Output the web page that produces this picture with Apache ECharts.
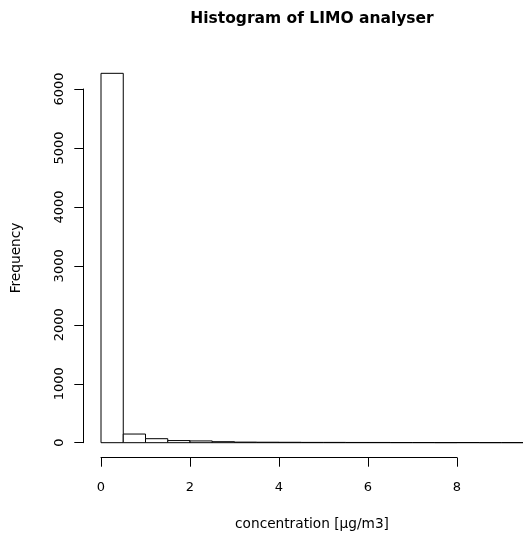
<!DOCTYPE html>
<html>
<head>
<meta charset="utf-8">
<script src="https://cdn.jsdelivr.net/npm/echarts@6/dist/echarts.min.js"></script>
<style>
html,body{margin:0;padding:0;background:#fff;}
#chart{width:523px;height:538px;}
</style>
</head>
<body>
<div id="chart"></div>
<script>
// Histogram bins (concentration, µg/m3) and frequencies
var binLeft  = [0, 0.5, 1, 1.5, 2, 2.5, 3, 3.5, 4, 4.5, 5, 5.5, 6, 6.5, 7, 7.5, 8, 8.5, 9];
var binRight = [0.5, 1, 1.5, 2, 2.5, 3, 3.5, 4, 4.5, 5, 5.5, 6, 6.5, 7, 7.5, 8, 8.5, 9, 9.5];
var counts   = [6266, 147, 68, 36, 30, 17, 10, 8, 7, 5, 5, 4, 4, 3, 3, 2, 3, 2, 2];
var xTicks = [0, 2, 4, 6, 8];
var yTicks = [0, 1000, 2000, 3000, 4000, 5000, 6000];

var mainTitle = 'Histogram of LIMO analyser';
var xTitle = 'concentration [µg/m3]';
var yTitle = 'Frequency';

var data = binLeft.map(function (l, i) { return [l, binRight[i], counts[i]]; });
var font = '"DejaVu Sans", sans-serif';

var chart = echarts.init(document.getElementById('chart'), null, {renderer: 'canvas'});
chart.setOption({
  backgroundColor: '#ffffff',
  animation: false,
  graphic: [
    {type: 'text', x: 312, y: 19, silent: true,
     style: {text: mainTitle, fill: '#000', font: 'bold 15.5px ' + font, textAlign: 'center', textVerticalAlign: 'middle'}},
    {type: 'text', x: 312, y: 524, silent: true,
     style: {text: xTitle, fill: '#000', font: '13.7px ' + font, textAlign: 'center', textVerticalAlign: 'middle'}},
    {type: 'text', x: 16, y: 258, rotation: Math.PI / 2, silent: true,
     style: {text: yTitle, fill: '#000', font: '13.7px ' + font, textAlign: 'center', textVerticalAlign: 'middle'}}
  ],
  grid: {left: 101, top: 89, width: 356, height: 353.7, containLabel: false},
  xAxis: {
    type: 'value', min: xTicks[0], max: xTicks[xTicks.length - 1], interval: 2,
    offset: 15, position: 'bottom',
    axisLine: {show: true, onZero: false, lineStyle: {color: '#000', width: 1}},
    axisTick: {show: true, inside: false, length: 9, lineStyle: {color: '#000', width: 1}},
    axisLabel: {show: true, color: '#000', fontSize: 13, fontFamily: font, margin: 23,
      formatter: function (v) { return String(v); }},
    splitLine: {show: false}
  },
  yAxis: {
    type: 'value', min: yTicks[0], max: yTicks[yTicks.length - 1], interval: 1000,
    offset: 17.7, position: 'left',
    axisLine: {show: true, onZero: false, lineStyle: {color: '#000', width: 1}},
    axisTick: {show: true, inside: false, length: 9, lineStyle: {color: '#000', width: 1}},
    axisLabel: {show: true, color: '#000', fontSize: 13, fontFamily: font, margin: 17, rotate: 90,
      formatter: function (v) { return String(v); }},
    splitLine: {show: false}
  },
  series: [{
    type: 'custom',
    clip: false,
    data: data,
    encode: {x: [0, 1], y: 2},
    renderItem: function (params, api) {
      var p0 = api.coord([api.value(0), 0]);
      var p1 = api.coord([api.value(1), api.value(2)]);
      return {
        type: 'rect',
        shape: {x: p0[0], y: p1[1], width: p1[0] - p0[0], height: p0[1] - p1[1]},
        style: {fill: '#ffffff', stroke: '#000000', lineWidth: 1}
      };
    }
  }]
});
</script>
</body>
</html>
